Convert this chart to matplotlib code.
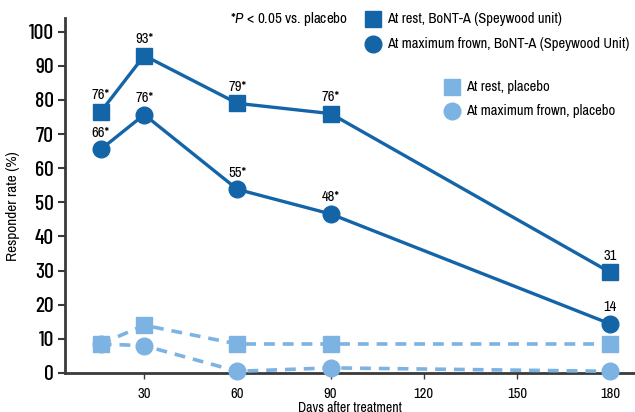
import matplotlib
matplotlib.use('Agg')
import matplotlib.pyplot as plt

plt.rcParams['font.family'] = ['Archivo Narrow', 'Barlow Condensed', 'DejaVu Sans']
plt.rcParams['font.stretch'] = 'condensed'
plt.rcParams['mathtext.fontset'] = 'custom'
plt.rcParams['mathtext.it'] = 'Archivo Narrow:italic'
plt.rcParams['mathtext.rm'] = 'Archivo Narrow'

days = [16, 30, 60, 90, 180]
rest_bont = [76.5, 93, 79, 76, 29.5]
frown_bont = [65.5, 75.7, 53.8, 46.6, 14.4]
rest_placebo = [8.5, 14, 8.5, 8.5, 8.5]
frown_placebo = [8.5, 8, 0.5, 1.5, 0.5]
rest_labels = ['76*', '93*', '79*', '76*', '31']
frown_labels = ['66*', '76*', '55*', '48*', '14']

dark = '#1464a8'
light = '#7db3e2'
axis_col = '#3a3a3a'

fig = plt.figure(figsize=(6.35, 4.12), dpi=100)
ax = fig.add_axes([65/635, 1 - 373/412, 570/635, 355/412])
ax.set_xlim(4.5, 188)
ax.set_ylim(0, 104)

ax.plot(days, rest_placebo, '--', color=light, lw=2.6, dashes=(3, 2.2),
        marker='s', ms=11, mec=light, clip_on=False, zorder=3)
ax.plot(days, frown_placebo, '--', color=light, lw=2.6, dashes=(3, 2.2),
        marker='o', ms=12, mec=light, clip_on=False, zorder=3)
ax.plot(days, rest_bont, '-', color=dark, lw=2.4, marker='s', ms=11,
        mec=dark, clip_on=False, zorder=4)
ax.plot(days, frown_bont, '-', color=dark, lw=2.4, marker='o', ms=12,
        mec=dark, clip_on=False, zorder=4)

for x, y, s in zip(days, rest_bont, rest_labels):
    ax.annotate(s, (x, y), xytext=(0, 7), textcoords='offset points',
                ha='center', va='bottom', fontsize=10.5)
for x, y, s in zip(days, frown_bont, frown_labels):
    ax.annotate(s, (x, y), xytext=(0, 7), textcoords='offset points',
                ha='center', va='bottom', fontsize=10.5)

for side in ['top', 'right']:
    ax.spines[side].set_visible(False)
for side in ['left', 'bottom']:
    ax.spines[side].set_color(axis_col)
    ax.spines[side].set_linewidth(2)

ax.set_yticks(range(0, 101, 10))
ax.set_xticks([30, 60, 90, 120, 150, 180])
ax.tick_params(axis='y', length=5, width=1.5, color=axis_col, pad=3)
ax.tick_params(axis='x', labelsize=10.5, length=4, width=1, color=axis_col, pad=6)
for lab in ax.get_yticklabels():
    lab.set_family(['Barlow Condensed', 'DejaVu Sans'])
    lab.set_fontsize(15.5)
    lab.set_fontweight('medium')
ax.set_ylabel('Responder rate (%)', fontsize=11)
ax.yaxis.set_label_coords(-45/570, 0.47)
ax.set_xlabel('Days after treatment', fontsize=10)
ax.xaxis.set_label_coords(0.5, -28/355)

# legend drawn by hand
fig.text(230/635, 1 - 19/412, '*$P$ < 0.05 vs. placebo', fontsize=10.8, va='center')
legend_items = [
    (373, 19, 's', dark, 'At rest, BoNT-A (Speywood unit)'),
    (373, 44, 'o', dark, 'At maximum frown, BoNT-A (Speywood Unit)'),
    (452, 87, 's', light, 'At rest, placebo'),
    (452, 111, 'o', light, 'At maximum frown, placebo'),
]
for lx, ly, m, c, label in legend_items:
    fig.lines.append(plt.Line2D([lx/635], [1 - ly/412], marker=m, color=c, ms=12,
                                transform=fig.transFigure, ls=''))
    fig.text((lx + 14)/635, 1 - ly/412, label, fontsize=10.5, va='center')

fig.savefig('out.png', dpi=100)
